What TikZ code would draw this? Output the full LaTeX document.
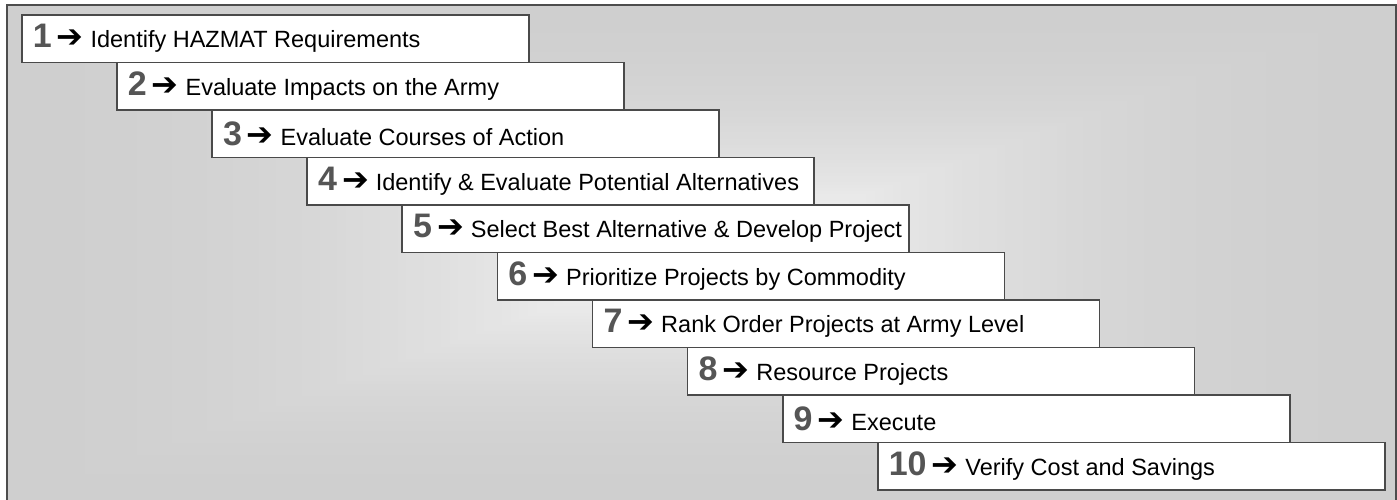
\documentclass[tikz,border=0pt]{standalone}
\usepackage{fontspec}
\setmainfont{Liberation Sans}
\newfontfamily\arrowfont{DejaVu Sans}

\definecolor{bgedge}{HTML}{CFCFCF}
\definecolor{bgcentre}{HTML}{FBFBFB}
\definecolor{frameline}{HTML}{4D4D4D}
\definecolor{boxline}{HTML}{4A4A4A}
\definecolor{numgray}{HTML}{555555}

\tikzset{
  stepbox/.style={draw=boxline, line width=1.6pt, fill=white,
    minimum height=47.5pt, inner xsep=2pt, inner ysep=0pt,
    anchor=north west, font=\fontsize{23.5}{28}\selectfont},
  framebox/.style={draw=frameline, line width=2.2pt}
}

% step number in bold grey, then a heavy arrow, then the step's wording
\newcommand\stepnum[1]{{\fontsize{34}{36}\selectfont\bfseries\color{numgray}#1}}
\newcommand\steparrow{{\arrowfont\bfseries\fontsize{32}{34}\selectfont ➔}}
\newcommand\steptext[2]{\makebox[503pt][l]{\hspace{9pt}\stepnum{#1}\hspace{5pt}\steparrow\hspace{7pt}#2}}

\begin{document}
\begin{tikzpicture}[x=1pt,y=-1pt]
\useasboundingbox (0,0) rectangle (1397,499);

% rectangular gradient backdrop, light in the middle
\begin{scope}
  \clip (7,5) rectangle (1396,502);
  \foreach \k in {0,...,79} {
    \pgfmathsetmacro\f{1-\k/80}
    \pgfmathsetmacro\p{100*(1-\f)^2}
    \fill[bgcentre!\p!bgedge] ({701.5-694.5*\f},{253.5-248.5*\f})
      rectangle ({701.5+694.5*\f},{253.5+248.5*\f});
  }
\end{scope}
\draw[framebox] (7,5) rectangle (1396,502);

% the ten steps, each one down and to the right of the previous
\node[stepbox] (s1)  at (21,14)      {\steptext{1}{Identify HAZMAT Requirements}};
\node[stepbox] (s2)  at (116.1,61.5) {\steptext{2}{Evaluate Impacts on the Army}};
\node[stepbox] (s3)  at (211.2,109)  {\steptext{3}{Evaluate Courses of Action}};
\node[stepbox] (s4)  at (306.3,156.5){\steptext{4}{Identify \& Evaluate Potential Alternatives}};
\node[stepbox] (s5)  at (401.4,204)  {\steptext{5}{Select Best Alternative \& Develop Project}};
\node[stepbox] (s6)  at (496.6,251.5){\steptext{6}{Prioritize Projects by Commodity}};
\node[stepbox] (s7)  at (591.7,299)  {\steptext{7}{Rank Order Projects at Army Level}};
\node[stepbox] (s8)  at (686.8,346.5){\steptext{8}{Resource Projects}};
\node[stepbox] (s9)  at (781.9,394)  {\steptext{9}{Execute}};
\node[stepbox] (s10) at (877,441.5)  {\steptext{10}{Verify Cost and Savings}};
\end{tikzpicture}
\end{document}
